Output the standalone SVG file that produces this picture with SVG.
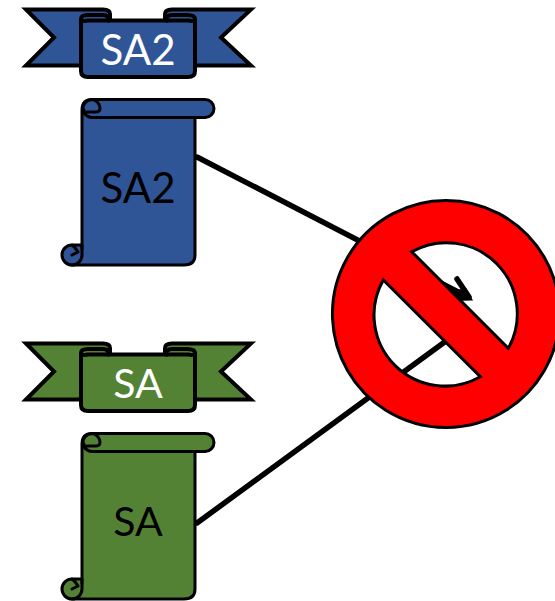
<svg xmlns="http://www.w3.org/2000/svg" xmlns:xlink="http://www.w3.org/1999/xlink" width="555" height="601" viewBox="0 0 555 601">
<style>
.s{stroke:#000;stroke-width:4;stroke-linejoin:miter;stroke-linecap:round}
.t{stroke:#000;stroke-width:3;stroke-linejoin:round;stroke-linecap:round}
.blue{fill:#2F5597}.green{fill:#548235}
.w{font-family:Lato,"Liberation Sans",sans-serif;font-size:42px;text-anchor:middle;fill:#fff}
.k{font-family:Lato,"Liberation Sans",sans-serif;font-size:42px;text-anchor:middle;fill:#000}
.c{fill:none;stroke:#000;stroke-width:5.500;stroke-linecap:round}
</style>
<defs>
<g id="banner">
<path class="s" d="M26,9.500H103Q110,9.500 110,14V21H165V14Q165,9.500 172,9.500H251L221,37.500L251,65.500H194V65.500H81V65.500H26L54,37.500Z"/>
<path class="s" stroke-linejoin="round" d="M81,21V19Q81,15 88,15H103Q109,15 109,20.500H166Q166,15 172,15H187Q195,15 195,19V71Q195,77 188,77H88Q81,77 81,71Z"/>
<path class="s" fill="none" d="M81,20Q83,21.500 88,20.500H109M195,20Q193,21.500 188,20.500H166"/>
</g>
<g id="scroll">
<path class="t" d="M82,249V110Q82,99.500 92,99.500H205A9,9 0 0 1 205,117.500H195V255Q195,265 184,265H72A10,10 0 0 1 72,245H82Z"/>
<path class="t" fill="none" d="M92,117.500H205M92,117.500A9,9 0 1 1 92,99.500A9,9 0 0 1 100,108.500Q100,112 95,112H87M92,117.500A8,8 0 0 1 84,110M72,265A10,10 0 0 0 82,255V245M72,245Q76,248 78,252M72,255L78,252"/>
</g>
</defs>
<g id="connectors">
<path class="c" d="M197,157L462,294"/>
<path class="c" d="M457,279L469,297"/>
<path fill="#000" d="M473,300.500L466,288L448,292L452,301Z"/>
<path class="c" d="M197,523L446,341"/>
</g>
<g id="banner-sa2"><use href="#banner" class="blue"/><text class="w" x="138" y="65">SA2</text></g>
<g id="scroll-sa2"><use href="#scroll" class="blue"/><text class="k" x="138" y="203">SA2</text></g>
<g id="banner-sa"><use href="#banner" class="green" y="334"/><text class="w" x="138" y="398" style="font-size:41px">SA</text></g>
<g id="scroll-sa"><use href="#scroll" class="green" y="334"/><text class="k" x="138" y="536" style="font-size:41px">SA</text></g>
<g id="no-sign"><path fill="#f00" fill-rule="evenodd" stroke="#000" stroke-width="3" stroke-linejoin="miter" d="M446,200.500A113.500,113.500 0 1 1 445.900,200.500ZM411.700,251.700A71,71 0 0 1 508.300,348.300ZM383.300,280A71,71 0 0 0 480.300,376.700Z"/></g>
</svg>
